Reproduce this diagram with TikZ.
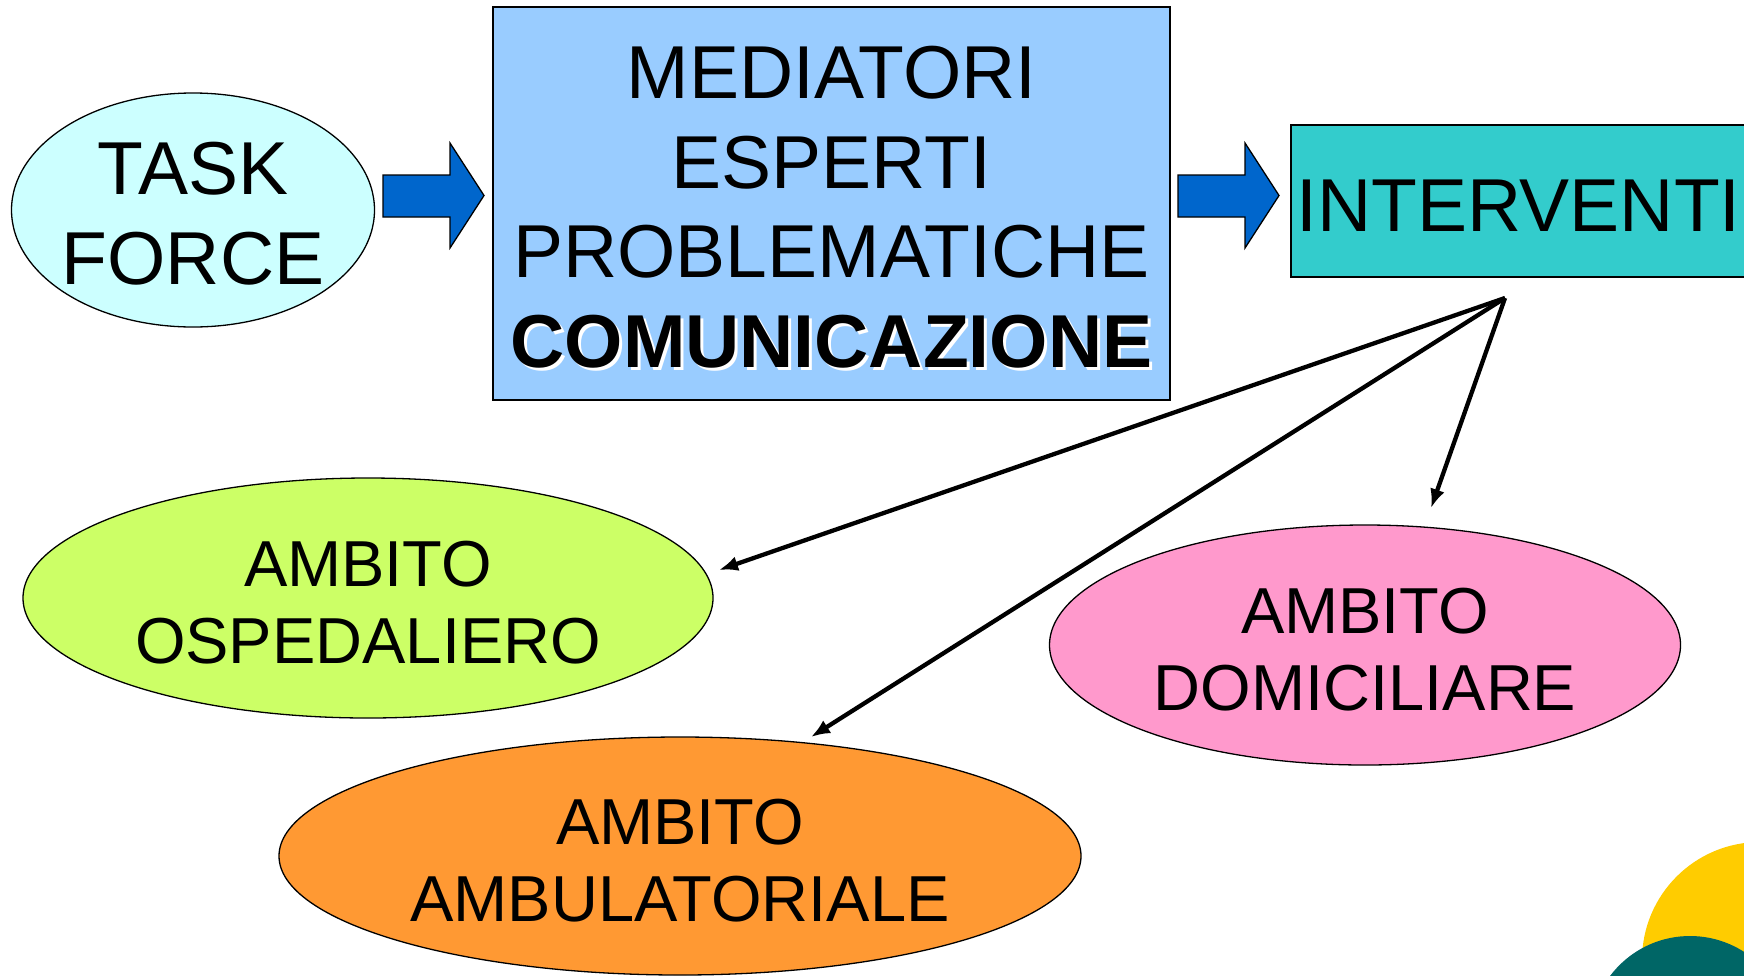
\documentclass[tikz,border=0pt]{standalone}
\usepackage{fontspec}
\setmainfont{Liberation Sans}
\usetikzlibrary{shapes.geometric,arrows.meta}

\definecolor{azzurrino}{HTML}{CCFFFF}
\definecolor{celeste}{HTML}{99CCFF}
\definecolor{bluscuro}{HTML}{0066CC}
\definecolor{turchese}{HTML}{33CCCC}
\definecolor{verdelime}{HTML}{CCFF66}
\definecolor{rosa}{HTML}{FF99CC}
\definecolor{arancio}{HTML}{FF9933}
\definecolor{giallo}{HTML}{FFCC00}
\definecolor{petrolio}{HTML}{006666}

\newcommand{\ombreggiato}[1]{\makebox[0pt][l]{\kern3pt\smash{\raisebox{-3pt}{\textcolor{white}{#1}}}}#1}
\newcommand{\rialzo}[1]{\rule{0pt}{#1}}

\begin{document}
\begin{tikzpicture}[x=1pt,y=-1pt,
	ovale/.style={ellipse,draw,line width=1.3pt,align=center,inner sep=0pt,font=\fontsize{65}{77}\selectfont},
	riquadro/.style={rectangle,draw,line width=1.3pt,align=center,inner sep=0pt,font=\fontsize{75}{89.5}\selectfont},
	freccia/.style={draw,line width=1.3pt,fill=bluscuro,line join=miter},
	ramo/.style={-{Latex[length=19pt,width=15pt]},line width=4.3pt}]
	\clip (0,0) rectangle (1744,975);
	\fill[white] (0,0) rectangle (1744,975);

	\fill[giallo] (1760,960) circle[radius=118];
	\fill[petrolio] (1690,1036) circle[radius=100];

	\node[ovale,fill=azzurrino,font=\fontsize{75}{90}\selectfont,inner xsep=-3pt,minimum width=363pt,minimum height=234pt] (task) at (193,210) {\rialzo{60pt}TASK\\FORCE};
	\node[riquadro,fill=celeste,minimum width=677pt,minimum height=393pt] (mediatori) at (831.5,203.5) {\rialzo{60pt}MEDIATORI\\ESPERTI\\PROBLEMATICHE\\\textbf{\ombreggiato{COMUNICAZIONE}}};
	\node[riquadro,fill=turchese,minimum width=455pt,minimum height=152pt] (interventi) at (1518.5,201) {\rialzo{60pt}INTERVENTI};

	\foreach \x in {383,1178}
		\draw[freccia] (\x,175) -- (\x+67,175) -- (\x+67,143) -- (\x+101,195.5) -- (\x+67,248) -- (\x+67,217) -- (\x,217) -- cycle;

	\node[ovale,fill=verdelime,minimum width=690pt,minimum height=240pt] (ospedaliero) at (368,598) {\rialzo{54pt}AMBITO\\OSPEDALIERO};
	\node[ovale,fill=rosa,minimum width=631pt,minimum height=240pt] (domiciliare) at (1365,645) {\rialzo{54pt}AMBITO\\DOMICILIARE};
	\node[ovale,fill=arancio,minimum width=802pt,minimum height=238pt] (ambulatoriale) at (680,856) {\rialzo{54pt}AMBITO\\AMBULATORIALE};

	\coordinate (snodo) at (1505,298);
	\coordinate (p-osp) at (719,570);
	\coordinate (p-amb) at (811,737);
	\coordinate (p-dom) at (1431,508);
	\draw[ramo] (snodo) -- (p-osp);
	\draw[ramo] (snodo) -- (p-amb);
	\draw[ramo] (snodo) -- (p-dom);
\end{tikzpicture}
\end{document}
